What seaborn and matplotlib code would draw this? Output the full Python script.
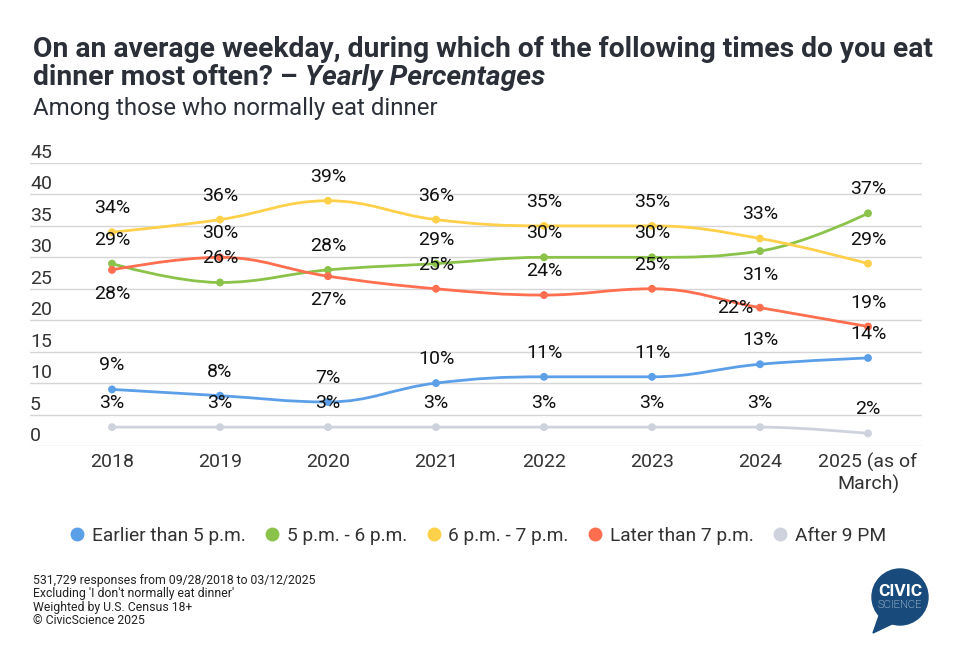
import numpy as np
import pandas as pd
import matplotlib
matplotlib.use("Agg")
import matplotlib.pyplot as plt
from matplotlib.path import Path
from matplotlib.patches import PathPatch, Circle, Polygon
from matplotlib.lines import Line2D
import seaborn as sns

# Chart data
years = ["2018", "2019", "2020", "2021", "2022", "2023", "2024", "2025 (as of\nMarch)"]
series_names = ["Earlier than 5 p.m.", "5 p.m. - 6 p.m.", "6 p.m. - 7 p.m.", "Later than 7 p.m.", "After 9 PM"]
earlier_5 = [9, 8, 7, 10, 11, 11, 13, 14]
pm_5_6 = [29, 26, 28, 29, 30, 30, 31, 37]
pm_6_7 = [34, 36, 39, 36, 35, 35, 33, 29]
later_7 = [28, 30, 27, 25, 24, 25, 22, 19]
after_9 = [3, 3, 3, 3, 3, 3, 3, 2]
colors = ["#5B9FE8", "#8BC34A", "#FFD04A", "#FF6E4E", "#CED2DC"]

values = [earlier_5, pm_5_6, pm_6_7, later_7, after_9]

# label placement: 'a' above, 'b' below, 'l' left
label_pos = {
    "Later than 7 p.m.": ["b", "a", "b", "a", "a", "a", "l", "a"],
    "5 p.m. - 6 p.m.": ["a", "a", "a", "a", "a", "a", "b", "a"],
}

rows = []
for name, vals in zip(series_names, values):
    for i, v in enumerate(vals):
        rows.append({"idx": i, "year": years[i], "series": name, "value": v})
df = pd.DataFrame(rows)

sns.set_theme(style="white")
plt.rcParams["font.family"] = ["Roboto", "DejaVu Sans"]

W, H = 966, 658
fig = plt.figure(figsize=(W / 100, H / 100), dpi=100)
ax = fig.add_axes([30 / W, 1 - 446 / H, 892 / W, (446 - 163) / H])


def spline_path(xs, ys, smoothing=1.5):
    # Highcharts-like spline control points
    n = len(xs)
    denom = smoothing + 1
    lc = [(x, y) for x, y in zip(xs, ys)]
    rc = [(x, y) for x, y in zip(xs, ys)]
    for i in range(1, n - 1):
        x, y = xs[i], ys[i]
        px, py = xs[i - 1], ys[i - 1]
        nx, ny = xs[i + 1], ys[i + 1]
        lcx = (smoothing * x + px) / denom
        lcy = (smoothing * y + py) / denom
        rcx = (smoothing * x + nx) / denom
        rcy = (smoothing * y + ny) / denom
        corr = ((rcy - lcy) * (rcx - x)) / (rcx - lcx) + y - rcy
        lcy += corr
        rcy += corr
        if lcy > py and lcy > y:
            lcy = max(py, y)
            rcy = 2 * y - lcy
        elif lcy < py and lcy < y:
            lcy = min(py, y)
            rcy = 2 * y - lcy
        if rcy > ny and rcy > y:
            rcy = max(ny, y)
            lcy = 2 * y - rcy
        elif rcy < ny and rcy < y:
            rcy = min(ny, y)
            lcy = 2 * y - rcy
        lc[i] = (lcx, lcy)
        rc[i] = (rcx, rcy)
    verts = [(xs[0], ys[0])]
    codes = [Path.MOVETO]
    for i in range(1, n):
        verts += [rc[i - 1], lc[i], (xs[i], ys[i])]
        codes += [Path.CURVE4] * 3
    return Path(verts, codes)


for name, col in zip(series_names, colors):
    sub = df[df["series"] == name]
    p = spline_path(list(sub["idx"].astype(float)), list(sub["value"].astype(float)))
    ax.add_patch(PathPatch(p, facecolor="none", edgecolor=col, lw=2, zorder=3))

sns.scatterplot(data=df, x="idx", y="value", hue="series", palette=dict(zip(series_names, colors)),
                s=32, linewidth=0, legend=False, ax=ax, zorder=4)

# data labels
for name in series_names:
    sub = df[df["series"] == name]
    pos = label_pos.get(name, ["a"] * len(sub))
    for (i, v), p in zip(zip(sub["idx"], sub["value"]), pos):
        off = {"a": (0, 24), "b": (0, -24), "l": (-25, 0)}[p]
        ax.annotate(f"{v}%", (i, v), xytext=off, textcoords="offset pixels",
                    ha="center", va="center", fontsize=14, color="#111111", zorder=5)

ax.set_xlim((30 - 112) / 108, (922 - 112) / 108)
ax.set_ylim(0, 45)
ax.set_yticks(range(0, 50, 5))
ax.set_yticklabels([])
ax.tick_params(axis="y", length=0)
ax.grid(axis="y", color="#d6d6d6", lw=1)
ax.set_axisbelow(True)
for s in ax.spines.values():
    s.set_visible(False)
for v in range(0, 50, 5):
    ax.annotate(str(v), (0, v), xycoords=("axes fraction", "data"), xytext=(0, 5),
                textcoords="offset pixels", ha="left", va="baseline", fontsize=14, color="#333333")
ax.set_xticks(range(len(years)))
ax.set_xticklabels(years, fontsize=14, color="#333333", linespacing=1.2)
ax.tick_params(axis="x", length=0, pad=5)
ax.set_xlabel("")
ax.set_ylabel("")

# titles
fig.text(33 / W, 1 - 57 / H, "On an average weekday, during which of the following times do you eat",
         fontsize=20.3, fontweight="bold", color="#2b3038", va="baseline")
t2 = fig.text(33 / W, 1 - 85 / H, "dinner most often? \u2013 ", fontsize=20.3, fontweight="bold",
              color="#2b3038", va="baseline")
fig.canvas.draw()
bb = t2.get_window_extent()
fig.text(bb.x1 / W, 1 - 85 / H, "Yearly Percentages", fontsize=20.3, fontweight="bold",
         style="italic", color="#2b3038", va="baseline")
fig.text(33 / W, 1 - 115 / H, "Among those who normally eat dinner", fontsize=17.3,
         color="#2b3038", va="baseline")

# legend
handles = [Line2D([], [], marker="o", ls="", color=c, markersize=9) for c in colors]
fig.legend(handles, series_names, loc="center", bbox_to_anchor=(476 / W, 1 - 536 / H), ncol=5,
           frameon=False, fontsize=13.8, handletextpad=0.15, columnspacing=0.8,
           labelcolor="#333333", handlelength=1.2)

# footer
foot = ["531,729 responses from 09/28/2018 to 03/12/2025",
        "Excluding 'I don't normally eat dinner'",
        "Weighted by U.S. Census 18+",
        "\u00a9 CivicScience 2025"]
for k, line in enumerate(foot):
    fig.text(33 / W, 1 - (584 + 13.5 * k) / H, line, fontsize=8.8, color="#222222", va="baseline")

# logo
lax = fig.add_axes([860 / W, 1 - 640 / H, 90 / W, 90 / H])
lax.set_xlim(0, 90)
lax.set_ylim(0, 90)
lax.set_aspect("equal")
lax.axis("off")
logo_col = "#184b7c"
lax.add_patch(Circle((40, 43), 28, color=logo_col))
lax.add_patch(Polygon([[20, 27], [13, 7], [34, 17]], closed=True, color=logo_col))
lax.text(40, 49, "CIVIC", ha="center", va="center", color="white", fontsize=12.5, fontweight="bold")
lax.text(40, 35, "SCIENCE", ha="center", va="center", color="white", fontsize=8, fontweight="light")

fig.savefig("out.png", dpi=100, facecolor="white")
